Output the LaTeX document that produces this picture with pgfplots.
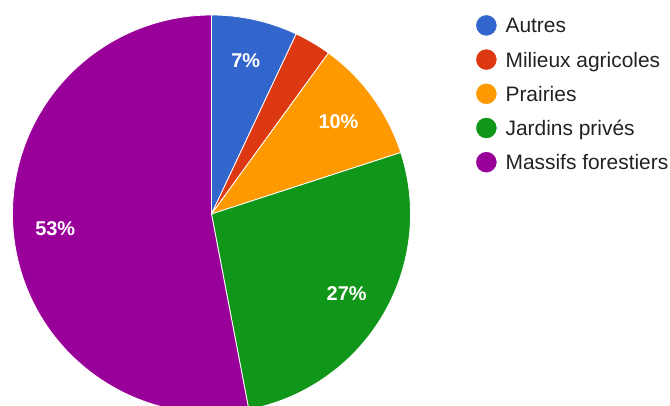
\documentclass[border=0pt]{standalone}
\usepackage{fontspec}
\setmainfont{Liberation Sans}
\usepackage{pgfplots}
\pgfplotsset{compat=1.18}

\definecolor{cA}{HTML}{3366CC}
\definecolor{cB}{HTML}{DC3912}
\definecolor{cC}{HTML}{FF9900}
\definecolor{cD}{HTML}{109618}
\definecolor{cE}{HTML}{990099}
\definecolor{legendgray}{HTML}{222222}
\newcommand\labelfont{\fontsize{20}{24}\selectfont\bfseries}

\begin{document}
\begin{tikzpicture}
\begin{axis}[
  x=1bp, y=1bp, xmin=0, xmax=670, ymin=0, ymax=405,
  scale only axis, axis line style={draw=none}, ticks=none,
  clip=true,
  legend cell align=left,
  legend style={at={(0.7104,0.9630)}, anchor=north west, draw=none, fill=none,
    inner sep=0pt, row sep=13.8bp, column sep=9bp,
    font=\fontsize{21}{25}\selectfont, text=legendgray,
    nodes={inner sep=0pt, text height=15bp, text depth=0pt}},
]
% slices clockwise from 12 o'clock, values in percent
\def\acc{90}
\foreach \v/\c/\t in {7/cA/7\%, 3/cB/, 10/cC/10\%, 27/cD/27\%, 53/cE/53\%} {
  \pgfmathsetmacro\aend{\acc-3.6*\v}
  \pgfmathsetmacro\amid{(\acc+\aend)/2}
  \edef\temp{\noexpand\fill[\c, draw=white, line width=0.8bp] (axis cs:211.5,191) -- ++(\acc:199bp) arc[start angle=\acc, end angle=\aend, radius=199bp] -- cycle;}
  \temp
  \edef\temp{\noexpand\node[font=\noexpand\labelfont, text=white, shift={(\amid:157bp)}] at (axis cs:211.5,191) {\t};}
  \temp
  \global\let\acc\aend
}
\addlegendimage{cA, legend image code/.code={\fill (0bp,0bp) circle[radius=10bp];}}
\addlegendentry{Autres}
\addlegendimage{cB, legend image code/.code={\fill (0bp,0bp) circle[radius=10bp];}}
\addlegendentry{Milieux agricoles}
\addlegendimage{cC, legend image code/.code={\fill (0bp,0bp) circle[radius=10bp];}}
\addlegendentry{Prairies}
\addlegendimage{cD, legend image code/.code={\fill (0bp,0bp) circle[radius=10bp];}}
\addlegendentry{Jardins privés}
\addlegendimage{cE, legend image code/.code={\fill (0bp,0bp) circle[radius=10bp];}}
\addlegendentry{Massifs forestiers}
\end{axis}
\pgfresetboundingbox
\path[use as bounding box] (current axis.south west) rectangle (current axis.north east);
\end{tikzpicture}
\end{document}
